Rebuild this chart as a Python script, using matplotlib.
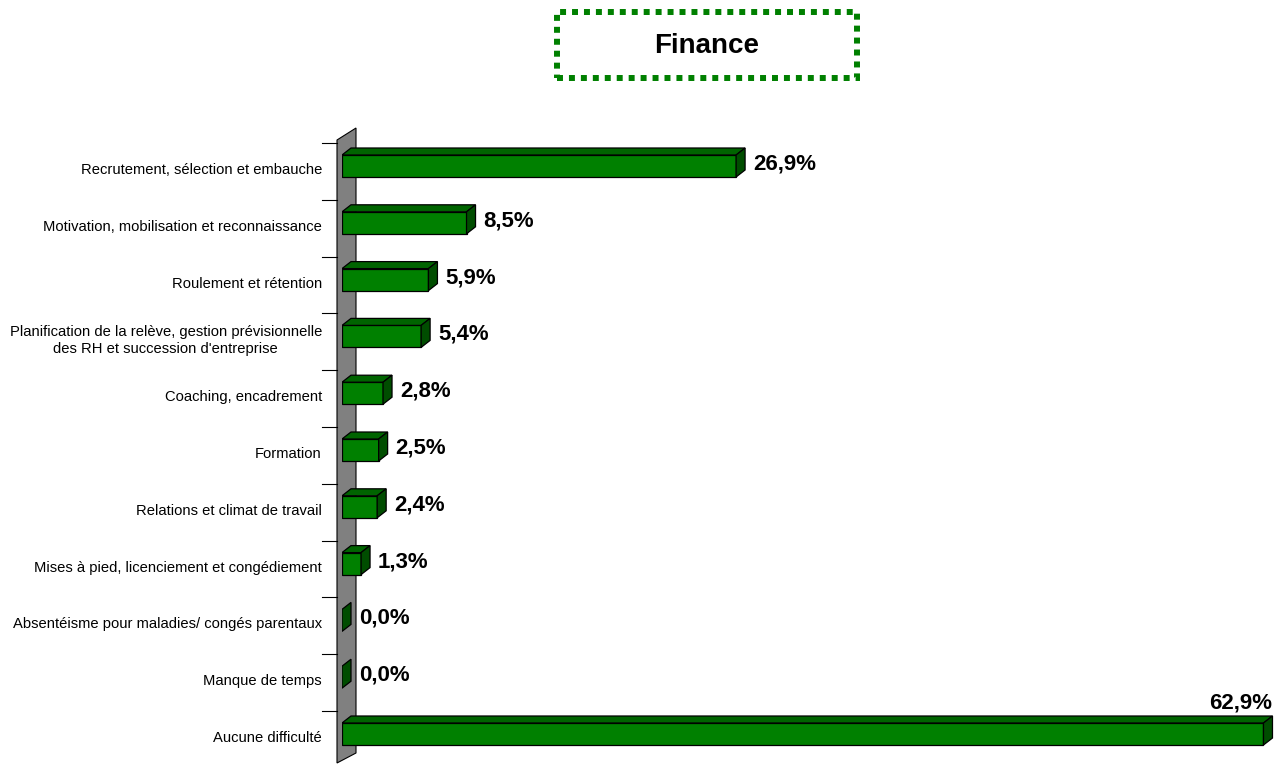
import matplotlib
matplotlib.use("Agg")
import matplotlib.pyplot as plt
from matplotlib.patches import Polygon, Rectangle

plt.rcParams['font.family'] = ['Liberation Sans', 'DejaVu Sans']

categories = [
    "Recrutement, sélection et embauche",
    "Motivation, mobilisation et reconnaissance",
    "Roulement et rétention",
    "Planification de la relève, gestion prévisionnelle\ndes RH et succession d'entreprise",
    "Coaching, encadrement",
    "Formation",
    "Relations et climat de travail",
    "Mises à pied, licenciement et congédiement",
    "Absentéisme pour maladies/ congés parentaux",
    "Manque de temps",
    "Aucune difficulté",
]
values = [26.9, 8.5, 5.9, 5.4, 2.8, 2.5, 2.4, 1.3, 0.0, 0.0, 62.9]
labels = ["26,9%", "8,5%", "5,9%", "5,4%", "2,8%", "2,5%", "2,4%", "1,3%", "0,0%", "0,0%", "62,9%"]
title = "Finance"

W, H = 1285, 764
fig = plt.figure(figsize=(W / 100, H / 100), dpi=100)

# pixel geometry of the plot area
x0_px, px_per_pct = 342, 14.65
y0_px, row_px = 166, 56.8
ax = fig.add_axes([x0_px / W, 0, 1 - x0_px / W, 1 - 128 / H])
ax.set_xlim(0, (W - x0_px) / px_per_pct)
ax.set_ylim((H - y0_px) / row_px, (128 - y0_px) / row_px)
ax.axis("off")

def px_x(p):
    return p / px_per_pct

def px_y(p):
    return p / row_px

n = len(categories)
# back wall
wall = Polygon([(px_x(-5), px_y(140 - y0_px)), (px_x(14), px_y(128 - y0_px)),
                (px_x(14), px_y(753 - y0_px)), (px_x(-5), px_y(763 - y0_px))],
               closed=True, facecolor="#808080", edgecolor="black", lw=0.8, clip_on=False)
ax.add_patch(wall)

# tick marks at category boundaries
for i in range(n + 1):
    yb = px_y(143 - y0_px) + i * 1.0
    ax.plot([px_x(-20), px_x(-5)], [yb, yb], color="black", lw=0.8, clip_on=False)

dx, dy = px_x(9), px_y(7)
hh = px_y(11)
for i, (v, lab, cat) in enumerate(zip(values, labels, categories)):
    top, bot = i - hh, i + hh
    if v > 0:
        ax.add_patch(Polygon([(0, top), (v, top), (v, bot), (0, bot)], closed=True,
                             facecolor="#008000", edgecolor="black", lw=0.9))
        ax.add_patch(Polygon([(0, top), (dx, top - dy), (v + dx, top - dy), (v, top)], closed=True,
                             facecolor="#006400", edgecolor="black", lw=0.9))
    ax.add_patch(Polygon([(v, top), (v + dx, top - dy), (v + dx, bot - dy), (v, bot)], closed=True,
                         facecolor="#004d00", edgecolor="black", lw=0.9))
    if v > 60:
        ax.text(v + dx, top - dy - px_y(3), lab, ha="right", va="bottom",
                fontsize=16, fontweight="bold")
    else:
        ax.text(v + px_x(17), i - px_y(2), lab, ha="left", va="center",
                fontsize=16, fontweight="bold")
    ax.text(px_x(-20), i + px_y(4), cat, ha="right", va="center", multialignment="center",
            fontsize=10.6, clip_on=False)

# title box
bx0, by0, bx1, by1 = 557, 12, 857, 78
fig.patches.append(Rectangle((bx0 / W, 1 - by1 / H), (bx1 - bx0) / W, (by1 - by0) / H,
                             transform=fig.transFigure, fill=False, edgecolor="#008000",
                             lw=4.3, linestyle=(0, (1.0, 1.0))))
fig.text((bx0 + bx1) / 2 / W, 1 - 46 / H, title, ha="center", va="center",
         fontsize=20, fontweight="bold")

fig.savefig("out.png", dpi=100, facecolor="white")
